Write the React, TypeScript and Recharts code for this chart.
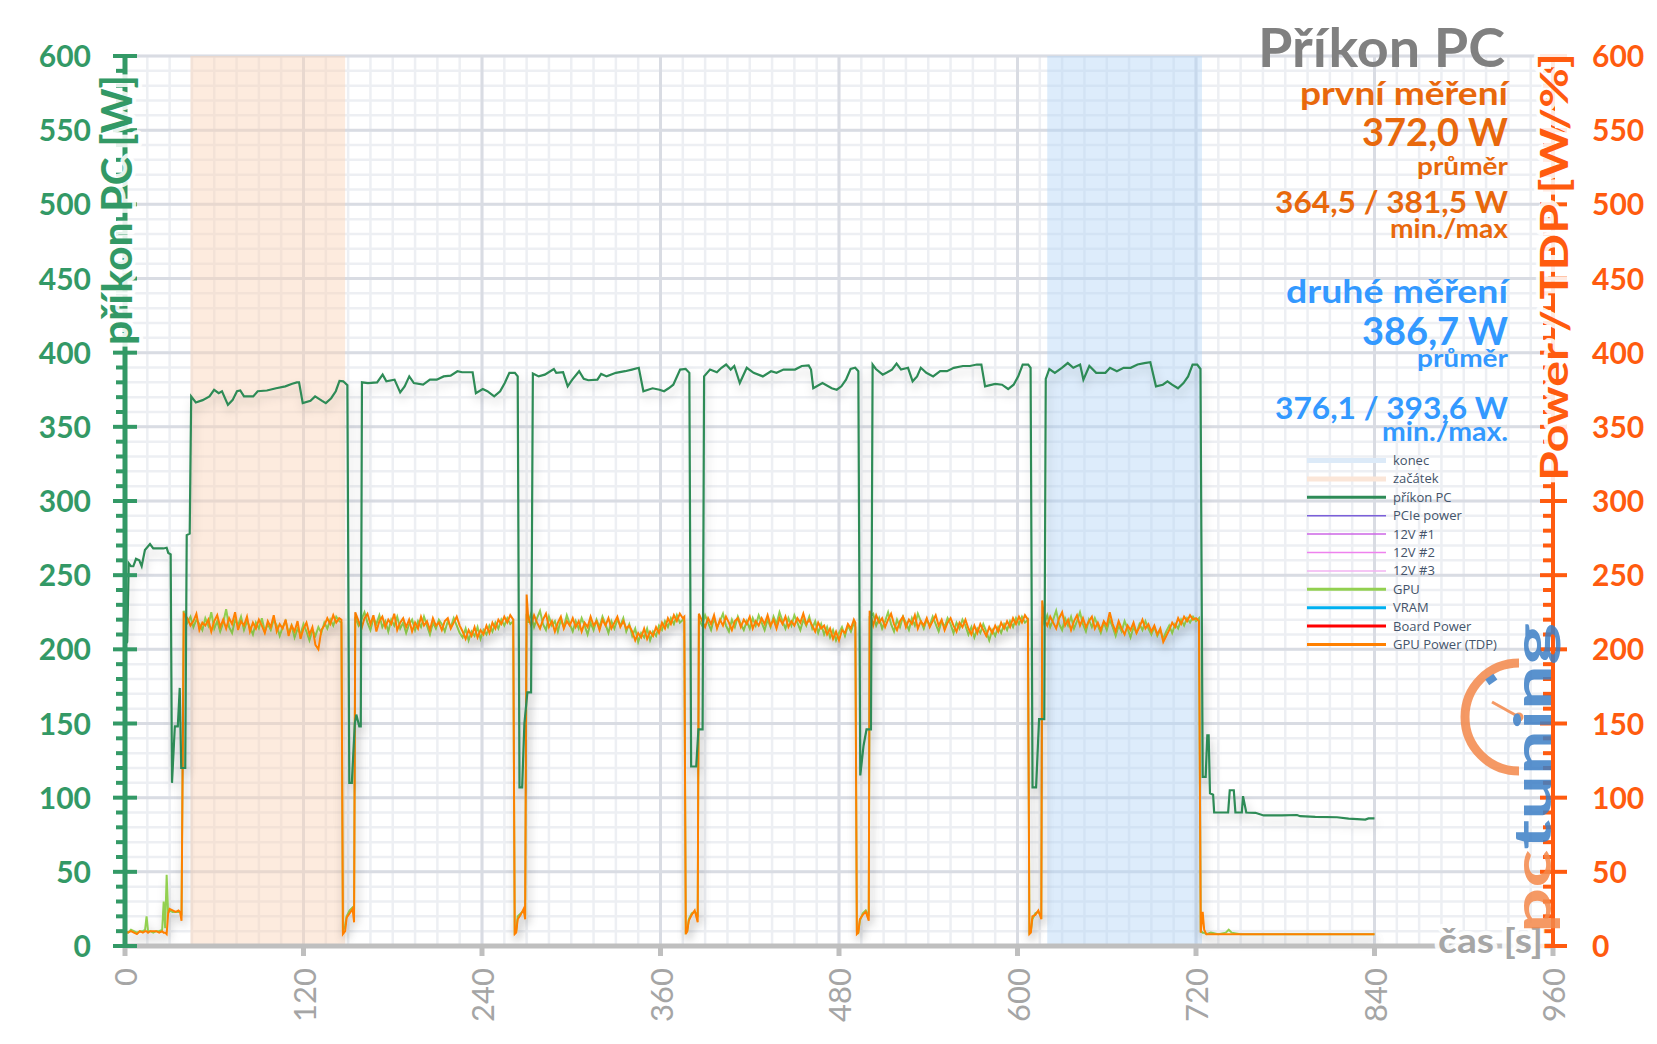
import React from "react";
import { LineChart, Line, XAxis, YAxis, CartesianGrid, ReferenceArea } from "recharts";

// PC power draw [s, W]
const pcPower: [number, number][] = [
  [0, 203], [1.5, 205], [2.5, 258], [4, 256], [5.6, 256], [7.4, 261], [9.6, 260], [11.2, 256], [13.4, 267],
  [16.8, 271], [19, 268], [22.4, 268], [25.8, 268], [28, 268.5], [29.1, 265], [30.7, 264], [31.6, 110],
  [33.5, 148], [35.5, 148], [36.8, 174], [37.8, 120], [40.5, 120], [41.5, 277], [43.5, 278], [44.5, 370.5],
  [47.6, 366.4], [52.2, 368], [56.8, 370.5], [59.9, 375], [63, 372.7], [65.2, 374], [69.2, 364.8], [72.3, 368],
  [75.3, 374], [77.5, 374.5], [80, 370.5], [86.2, 370.5], [89.2, 374], [95.4, 374.5], [101.6, 376], [107.8, 377.3],
  [112.4, 379], [115.5, 380], [117, 380], [119.5, 366], [124.7, 367.5], [127.8, 370.5], [132.5, 367.5], [135, 366],
  [138.6, 369.3], [141.7, 374], [144.2, 381], [146.7, 380.7], [149.5, 378], [150.8, 110], [152.5, 110],
  [154.5, 150], [155.5, 156], [157.5, 148], [158.5, 148], [159.3, 380], [163.3, 379.5], [169.5, 380],
  [173.2, 385.2], [175.7, 380.7], [181.2, 381.8], [185, 373.2], [188, 377.3], [191.1, 384], [194.2, 379.5],
  [200.4, 378.4], [205, 381.8], [209.6, 381.8], [214.2, 384], [218.9, 384.5], [223.5, 387.5], [226.6, 386.8],
  [233.7, 386.8], [235.9, 372.7], [240.5, 375.5], [243.6, 374], [248.2, 370.5], [252.2, 374], [255.3, 379.5],
  [258.4, 386.4], [262.1, 386.4], [264, 384], [265.2, 107], [267, 107], [268.5, 150], [270.5, 171], [273, 171],
  [274.2, 386], [278.1, 384], [282.2, 385.2], [288.3, 389], [289.9, 386.4], [294.5, 386.8], [297.6, 377.3],
  [300.7, 381.8], [305.3, 387.5], [308.4, 382.3], [311.5, 381.4], [317.6, 381.8], [320.1, 385.7], [323.8, 384],
  [330, 386.4], [336.2, 387.5], [340.8, 388.6], [345.4, 389.8], [348.5, 374], [354.7, 376], [359.3, 375],
  [362.4, 374], [365.5, 376], [368.6, 378.4], [373.2, 388.6], [376.9, 389], [379.4, 386.4], [380.6, 121],
  [384, 121], [385.5, 146], [388.3, 146], [389.3, 384], [393.3, 388.6], [397.9, 386.8], [401, 389.8],
  [404.1, 392], [407.2, 388.6], [409.6, 391], [413.3, 379.5], [418, 389.8], [422.6, 386.4], [428.8, 384],
  [434.3, 387.5], [438, 386.4], [442.7, 388.6], [450.4, 388.6], [455, 391], [459.6, 391.4], [461.2, 388.6],
  [462.7, 376], [468.9, 379.5], [475.1, 376], [478.5, 375], [481.6, 377.3], [484.7, 381.8], [487.8, 389],
  [490.9, 389.8], [493, 387.5], [494.3, 115], [496.5, 135], [498.5, 146], [501.5, 146], [502.6, 392],
  [504.8, 389], [509.4, 385.2], [512.5, 386.8], [515.6, 388.6], [518.7, 392.7], [521.7, 388.6], [526.4, 389.8],
  [529.5, 380.7], [532.5, 384], [535, 389.8], [538.7, 386.4], [543.3, 384], [548, 387.5], [552.6, 387.5],
  [557.2, 389.8], [563.4, 391], [568, 391], [572.7, 392], [575.7, 392], [578.2, 377.3], [585, 379],
  [589.6, 378.4], [593.7, 375.5], [597.4, 378.4], [600.5, 384], [603.5, 392], [607.2, 392], [608.8, 389.8],
  [610.1, 107], [612.5, 107], [614.5, 153], [618, 153], [619, 382.3], [621.4, 389], [625.1, 386.4],
  [629.8, 389.8], [633.8, 393], [637.5, 389.8], [642.1, 392], [644.3, 381.8], [648.3, 391], [652.9, 386.4],
  [659.1, 386.4], [662.2, 389.8], [666.8, 387.5], [671.4, 389.8], [676.1, 389.8], [680.7, 392], [685.3, 393],
  [689.3, 393.6], [693.1, 377.3], [697.7, 378.4], [700.8, 380.7], [703.9, 378.4], [707.9, 376], [711.6, 379.5],
  [714.7, 384], [717.7, 392], [720.8, 392], [723, 389], [724.5, 114], [726.5, 114], [727.6, 142], [728.5, 142],
  [729.4, 103], [731.5, 102], [732.2, 90], [741.6, 90], [742.7, 105], [745.4, 105], [746.5, 90], [750.8, 90],
  [751.6, 101], [753.8, 90], [759.9, 89.8], [765.5, 88], [777.8, 88], [787.9, 88.3], [790, 87.5], [800.2, 87],
  [814.8, 86.8], [822.6, 85.9], [833.8, 85.2], [836, 86], [840, 86],
];

// GPU samples [s, GPU W, GPU Power (TDP) W]
const gpuSamples: [number, number, number][] = [
  [0, 10, 10], [2, 9, 9], [4, 11, 10], [6, 10, 9], [8, 9, 8], [10, 10, 10], [12, 10, 9], [13.5, 11, 10],
  [14.5, 20, 10], [15.5, 10, 9], [17, 10, 10], [19, 9, 10], [21, 10, 10], [23, 10, 9], [25, 11, 10], [26, 30, 9],
  [27, 12, 9], [28, 48, 8], [29, 22, 22], [30, 24, 25], [32, 23, 24], [34, 23, 23], [36, 23, 24], [37, 23, 23],
  [38, 22, 17], [39.5, 226, 224],
  [42, 218, 221], [44, 222, 216], [46, 215, 219], [48, 220, 224], [50, 217, 213], [52, 213, 218], [54, 221, 216],
  [56, 216, 220], [58, 225, 212], [60, 214, 219], [62, 219, 223], [64, 212, 215], [66, 218, 220], [68, 227, 214],
  [70, 215, 221], [72, 211, 217], [74, 220, 225], [76, 216, 213], [78, 222, 219], [80, 213, 216], [82, 219, 222],
  [84, 215, 212], [86, 210, 218], [88, 218, 214], [90, 214, 220], [92, 221, 216], [94, 212, 211], [96, 217, 219],
  [98, 213, 215], [100, 220, 223], [102, 216, 212], [104, 209, 217], [106, 215, 214], [108, 219, 220],
  [110, 211, 209], [112, 216, 216], [114, 208, 212], [116, 214, 219], [118, 210, 207], [120, 217, 214],
  [122, 212, 218], [124, 206, 210], [126, 213, 215], [128, 209, 203], [130, 215, 200], [132, 211, 213],
  [134, 218, 216], [136, 214, 221], [138, 220, 217], [140, 216, 223], [142, 222, 218], [144, 219, 221],
  [145.5, 218, 220], [146.5, 10, 8], [148, 14, 10], [149, 20, 19], [151, 24, 22], [153, 26, 25], [154, 24, 16],
  [154.8, 222, 225], [157, 216, 219], [159, 220, 214], [161, 225, 221], [163, 218, 224], [165, 213, 217],
  [167, 221, 223], [169, 217, 212], [171, 223, 219], [173, 215, 222], [175, 219, 215], [177, 212, 220],
  [179, 220, 217], [181, 216, 224], [183, 222, 213], [185, 214, 218], [187, 218, 221], [189, 211, 215],
  [191, 217, 220], [193, 220, 212], [195, 213, 218], [197, 219, 214], [199, 215, 222], [201, 222, 216],
  [203, 216, 219], [205, 210, 213], [207, 218, 221], [209, 214, 216], [211, 220, 218], [213, 217, 213],
  [215, 212, 219], [217, 219, 221], [219, 215, 214], [221, 221, 218], [223, 216, 222], [225, 211, 216],
  [227, 208, 212], [229, 214, 207], [231, 206, 213], [233, 212, 209], [235, 209, 215], [237, 215, 208],
  [239, 207, 213], [241, 213, 210], [243, 210, 216], [245, 216, 211], [247, 212, 218], [249, 218, 214],
  [251, 214, 220], [253, 220, 217], [255, 216, 222], [257, 221, 218], [259, 217, 223], [261, 219, 220],
  [262, 9, 8], [263, 10, 9], [264, 20, 18], [266, 22, 21], [268, 24, 25], [269, 20, 18], [270, 224, 237],
  [271, 218, 222], [273, 224, 216], [275, 215, 223], [277, 221, 218], [279, 226, 214], [281, 217, 220],
  [283, 213, 224], [285, 222, 215], [287, 216, 219], [289, 219, 212], [291, 212, 218], [293, 220, 222],
  [295, 215, 214], [297, 223, 219], [299, 217, 216], [301, 212, 221], [303, 219, 215], [305, 214, 219],
  [307, 221, 212], [309, 216, 218], [311, 210, 215], [313, 218, 222], [315, 213, 216], [317, 220, 219],
  [319, 215, 213], [321, 222, 220], [323, 217, 216], [325, 211, 221], [327, 219, 214], [329, 214, 218],
  [331, 220, 222], [333, 216, 215], [335, 221, 219], [337, 212, 214], [339, 217, 216], [341, 209, 212],
  [343, 214, 206], [345, 205, 211], [347, 211, 208], [349, 208, 214], [351, 214, 207], [353, 206, 212],
  [355, 212, 209], [357, 209, 215], [359, 216, 211], [361, 213, 218], [363, 219, 214], [365, 215, 221],
  [367, 221, 217], [369, 217, 223], [371, 223, 219], [373, 218, 224], [375, 220, 221], [376, 219, 222],
  [377, 9, 8], [378, 10, 10], [379, 18, 17], [381, 22, 21], [383, 23, 24], [385, 21, 16], [385.8, 220, 224],
  [388, 216, 219], [390, 223, 215], [392, 218, 221], [394, 213, 217], [396, 221, 223], [398, 215, 214],
  [400, 219, 220], [402, 224, 216], [404, 216, 222], [406, 212, 218], [408, 220, 213], [410, 215, 219],
  [412, 222, 221], [414, 217, 215], [416, 213, 220], [418, 219, 217], [420, 214, 222], [422, 221, 214],
  [424, 216, 219], [426, 223, 216], [428, 218, 221], [430, 213, 217], [432, 220, 223], [434, 215, 216],
  [436, 222, 220], [438, 217, 214], [440, 225, 221], [442, 219, 217], [444, 214, 222], [446, 221, 215],
  [448, 216, 219], [450, 223, 216], [452, 218, 221], [454, 213, 218], [456, 220, 224], [458, 216, 217],
  [460, 222, 220], [462, 214, 216], [464, 219, 212], [466, 211, 218], [468, 217, 214], [470, 210, 216],
  [472, 215, 210], [474, 208, 214], [476, 213, 207], [478, 206, 212], [480, 211, 206], [482, 215, 213],
  [484, 209, 211], [486, 216, 217], [488, 212, 214], [490, 218, 220], [491, 215, 218], [492, 10, 8],
  [493, 9, 9], [494, 17, 18], [496, 22, 21], [498, 24, 23], [500, 20, 17], [500.6, 222, 226],
  [503, 224, 216], [505, 216, 223], [507, 221, 218], [509, 214, 221], [511, 219, 215], [513, 225, 220],
  [515, 217, 224], [517, 212, 217], [519, 220, 213], [521, 215, 219], [523, 222, 222], [525, 218, 215],
  [527, 213, 220], [529, 221, 217], [531, 216, 223], [533, 224, 214], [535, 219, 219], [537, 214, 216],
  [539, 220, 221], [541, 216, 215], [543, 222, 219], [545, 217, 223], [547, 212, 216], [549, 219, 220],
  [551, 215, 213], [553, 221, 218], [555, 217, 221], [557, 211, 216], [559, 218, 212], [561, 214, 218],
  [563, 220, 215], [565, 216, 220], [567, 210, 214], [569, 215, 210], [571, 208, 216], [573, 214, 211],
  [575, 211, 217], [577, 217, 213], [579, 212, 209], [581, 206, 215], [583, 213, 211], [585, 209, 216],
  [587, 215, 212], [589, 211, 218], [591, 217, 214], [593, 213, 219], [595, 219, 215], [597, 215, 221],
  [599, 221, 217], [601, 217, 222], [603, 222, 218], [605, 218, 223], [607, 220, 220], [608, 9, 8],
  [609, 10, 9], [610, 18, 20], [612, 22, 21], [614, 23, 24], [616, 20, 18], [616.6, 222, 233],
  [618, 217, 220], [620, 223, 216], [622, 215, 222], [624, 220, 218], [626, 226, 214], [628, 217, 221],
  [630, 213, 225], [632, 221, 216], [634, 216, 220], [636, 222, 213], [638, 214, 219], [640, 219, 223],
  [642, 225, 216], [644, 217, 221], [646, 212, 215], [648, 220, 219], [650, 215, 222], [652, 221, 214],
  [654, 216, 218], [656, 211, 213], [658, 218, 219], [660, 213, 216], [662, 220, 225], [664, 215, 217],
  [666, 209, 212], [668, 216, 219], [670, 212, 214], [672, 219, 210], [674, 214, 216], [676, 208, 213],
  [678, 215, 218], [680, 211, 211], [682, 217, 215], [684, 213, 220], [686, 219, 214], [688, 214, 217],
  [690, 210, 212], [692, 215, 216], [694, 209, 210], [696, 213, 214], [698, 207, 205], [700, 212, 209],
  [702, 216, 213], [704, 211, 218], [706, 217, 215], [708, 214, 221], [710, 220, 217], [712, 216, 222],
  [714, 221, 219], [716, 218, 223], [718, 222, 220], [720, 219, 221], [722, 221, 219], [723.2, 10, 9],
  [724.5, 9, 23], [725.5, 9, 11], [727, 8, 8], [730, 9, 8], [735, 8, 8], [740, 9, 8], [742, 11, 8],
  [744, 9, 8], [750, 8, 8], [760, 8, 8], [770, 8, 8], [780, 8, 8], [790, 8, 8], [800, 8, 8], [810, 8, 8],
  [820, 8, 8], [830, 8, 8], [840, 8, 8],
];

// measurement windows [s]
const startWindow = [44, 148];
const endWindow = [620, 724];

const xTicks = [0, 120, 240, 360, 480, 600, 720, 840, 960];
const yTicks = Array.from({ length: 61 }, (_, i) => i * 10);
const minorX = Array.from({ length: 65 }, (_, i) => i * 15);
const majorY = Array.from({ length: 13 }, (_, i) => i * 50);

const legendItems = [
  { name: "konec", color: "#DCEAF8", width: 5 },
  { name: "začátek", color: "#FBE6D8", width: 5 },
  { name: "příkon PC", color: "#2E8B57", width: 3 },
  { name: "PCIe power", color: "#7B5FD9", width: 1.5 },
  { name: "12V #1", color: "#CC66E6", width: 1.5 },
  { name: "12V #2", color: "#EE82EE", width: 1.5 },
  { name: "12V #3", color: "#F2B2F2", width: 1.5 },
  { name: "GPU", color: "#92D050", width: 3 },
  { name: "VRAM", color: "#00B0F0", width: 3 },
  { name: "Board Power", color: "#FF0000", width: 3 },
  { name: "GPU Power (TDP)", color: "#FF8000", width: 3 },
];

const ORANGE_TXT = "#E8680C";
const BLUE_TXT = "#3399FF";
const notes = [
  { text: "první měření", y: 105, size: 32, color: ORANGE_TXT, len: 208 },
  { text: "372,0 W", y: 146, size: 39, color: ORANGE_TXT, len: 146 },
  { text: "průměr", y: 175, size: 25, color: ORANGE_TXT, len: 91 },
  { text: "364,5 / 381,5 W", y: 213, size: 30, color: ORANGE_TXT, len: 233 },
  { text: "min./max", y: 238, size: 26, color: ORANGE_TXT, len: 118 },
  { text: "druhé měření", y: 303, size: 33, color: BLUE_TXT, len: 222 },
  { text: "386,7 W", y: 345, size: 39, color: BLUE_TXT, len: 146 },
  { text: "průměr", y: 367, size: 25, color: BLUE_TXT, len: 91 },
  { text: "376,1 / 393,6 W", y: 419, size: 30, color: BLUE_TXT, len: 233 },
  { text: "min./max.", y: 441, size: 26, color: BLUE_TXT, len: 126 },
];

const pcData = pcPower.map(([t, v]) => ({ t, v }));
const gpuData = gpuSamples.map(([t, gpu, tdp]) => ({ t, gpu, tdp }));

const GREEN = "#339966";
const RED_AXIS = "#FF5B0F";
const GRAY_AXIS = "#BFBFBF";
const FONT = "Lato, 'Open Sans', sans-serif";

const xGen = (vals: number[]) => (p: any) =>
  vals.map((v) => {
    const s = p?.xAxis?.scale;
    return typeof s === "function" ? s(v) : p.offset.left + (v / 960) * p.offset.width;
  });
const yGen = (vals: number[]) => (p: any) =>
  vals.map((v) => {
    const s = p?.yAxis?.scale;
    return typeof s === "function" ? s(v) : p.offset.top + (1 - v / 600) * p.offset.height;
  });

const LeftTick = (props: any) => {
  const { y, payload } = props;
  const v = payload.value;
  const major = v % 50 === 0;
  return (
    <g>
      <line x1={major ? 113 : 116} x2={major ? 137 : 126} y1={y} y2={y} stroke={GREEN} strokeWidth={4} />
      {major && (
        <text x={91} y={y} dy={11} textAnchor="end" fill={GREEN} fontFamily={FONT} fontWeight={700} fontSize={30}>
          {v}
        </text>
      )}
    </g>
  );
};

const RightTick = (props: any) => {
  const { y, payload } = props;
  const v = payload.value;
  const major = v % 50 === 0;
  return (
    <g>
      <line x1={major ? 1540 : 1543} x2={major ? 1567 : 1553} y1={y} y2={y} stroke={RED_AXIS} strokeWidth={4} />
      {major && (
        <text x={1592} y={y} dy={11} textAnchor="start" fill={RED_AXIS} fontFamily={FONT} fontWeight={700} fontSize={30}>
          {v}
        </text>
      )}
    </g>
  );
};

const XTick = (props: any) => {
  const { x, payload } = props;
  return (
    <g>
      <line x1={x} x2={x} y1={946} y2={956} stroke={GRAY_AXIS} strokeWidth={5} />
      <text
        transform={`translate(${x + 12}, 968) rotate(-90)`}
        textAnchor="end"
        fill="#A5A5A5"
        fontFamily={FONT}
        fontSize={31}
      >
        {payload.value}
      </text>
    </g>
  );
};

const halo = { stroke: "#fff", strokeWidth: 8, strokeOpacity: 0.9, paintOrder: "stroke" as const, strokeLinejoin: "round" as const };

export default function App() {
  return (
    <div style={{ position: "relative", width: 1657, height: 1044, background: "#fff" }}>
      <style>{`body{margin:0} .shadowed{filter:url(#lineShadow)}`}</style>
      <svg width={0} height={0} style={{ position: "absolute" }}>
        <defs>
          <filter id="lineShadow" x="-5%" y="-10%" width="110%" height="130%">
            <feDropShadow dx="2" dy="6" stdDeviation="5" floodColor="#000" floodOpacity="0.2" />
          </filter>
        </defs>
      </svg>
      <LineChart width={1657} height={1044} margin={{ top: 56, right: 0, bottom: 0, left: 0 }}>
        <CartesianGrid
          yAxisId="left"
          stroke="#EDEFF3"
          strokeWidth={2.5}
          verticalCoordinatesGenerator={xGen(minorX)}
          horizontalCoordinatesGenerator={yGen(yTicks)}
        />
        <CartesianGrid
          yAxisId="left"
          stroke="#D9DCE3"
          strokeWidth={3}
          verticalCoordinatesGenerator={xGen(xTicks)}
          horizontalCoordinatesGenerator={yGen(majorY)}
        />
        <ReferenceArea yAxisId="left" x1={startWindow[0]} x2={startWindow[1]} fill="#FBD3B5" fillOpacity={0.45} stroke="none" />
        <ReferenceArea yAxisId="left" x1={endWindow[0]} x2={endWindow[1]} fill="#B4D4F7" fillOpacity={0.45} stroke="none" />
        <XAxis
          dataKey="t"
          type="number"
          domain={[0, 960]}
          ticks={xTicks}
          interval={0}
          tick={XTick}
          tickLine={false}
          axisLine={{ stroke: GRAY_AXIS, strokeWidth: 5 }}
          height={98}
          allowDataOverflow
        />
        <YAxis
          yAxisId="left"
          orientation="left"
          type="number"
          width={125}
          domain={[0, 600]}
          ticks={yTicks}
          interval={0}
          tick={LeftTick}
          tickLine={false}
          axisLine={{ stroke: GREEN, strokeWidth: 5 }}
          allowDataOverflow
        />
        <YAxis
          yAxisId="right"
          orientation="right"
          type="number"
          width={104}
          domain={[0, 600]}
          ticks={yTicks}
          interval={0}
          tick={RightTick}
          tickLine={false}
          axisLine={{ stroke: RED_AXIS, strokeWidth: 4 }}
          allowDataOverflow
        />
        <Line data={gpuData} yAxisId="right" dataKey="gpu" type="linear" stroke="#92D050" strokeWidth={2} dot={false} isAnimationActive={false} className="shadowed" />
        <Line data={gpuData} yAxisId="right" dataKey="tdp" type="linear" stroke="#FF8000" strokeWidth={2} dot={false} isAnimationActive={false} className="shadowed" />
        <Line data={pcData} yAxisId="left" dataKey="v" type="linear" stroke="#2E8B57" strokeWidth={2.2} dot={false} isAnimationActive={false} className="shadowed" />
      </LineChart>

      <svg width={1657} height={1044} style={{ position: "absolute", left: 0, top: 0, pointerEvents: "none" }}>
        {/* axis titles */}
        <text
          transform="translate(132, 210) rotate(-90)"
          textAnchor="middle"
          fill={GREEN}
          fontFamily={FONT}
          fontWeight={700}
          fontSize={42}
          textLength={270}
          lengthAdjust="spacingAndGlyphs"
          style={halo}
        >
          příkon PC [W]
        </text>
        <text
          transform="translate(1568, 267) rotate(-90)"
          textAnchor="middle"
          fill={RED_AXIS}
          fontFamily={FONT}
          fontWeight={700}
          fontSize={38}
          textLength={428}
          lengthAdjust="spacingAndGlyphs"
          style={halo}
        >
          Power / TDP [W/%]
        </text>
        <text x={1543} y={953} textAnchor="end" fill="#A6A6A6" fontFamily={FONT} fontWeight={700} fontSize={34} textLength={105} lengthAdjust="spacingAndGlyphs" style={halo}>
          čas [s]
        </text>

        {/* title and summary */}
        <text x={1505} y={67} textAnchor="end" fill="#808080" fontFamily={FONT} fontWeight={700} fontSize={53} textLength={247} lengthAdjust="spacingAndGlyphs">
          Příkon PC
        </text>
        {notes.map((n, i) => (
          <text key={i} x={1508} y={n.y} textAnchor="end" fill={n.color} fontFamily={FONT} fontWeight={700} fontSize={n.size} textLength={n.len} lengthAdjust="spacingAndGlyphs">
            {n.text}
          </text>
        ))}

        {/* legend */}
        {legendItems.map((it, i) => {
          const cy = 460.5 + i * 18.4;
          return (
            <g key={it.name}>
              <line x1={1307} x2={1386} y1={cy} y2={cy} stroke={it.color} strokeWidth={it.width} />
              <text x={1393} y={cy + 4.5} fill="#44546A" fontFamily="'Open Sans', sans-serif" fontSize={13}>
                {it.name}
              </text>
            </g>
          );
        })}

        {/* watermark logo */}
        <g opacity={0.85}>
          <path d="M 1519 663 A 54 54 0 0 0 1519 771" stroke="#F4884A" strokeWidth={9} fill="none" />
          <line x1={1519} y1={717} x2={1492} y2={702} stroke="#F4884A" strokeWidth={3} />
          <circle cx={1519} cy={717} r={4.5} fill="#F4884A" />
          <rect x={1486} y={676} width={10} height={7} fill="#3D7FC6" transform="rotate(-35 1491 679)" />
          <text transform="translate(1551, 933) rotate(-90)" fontFamily={FONT} fontWeight={700} fontSize={52} textLength={310} lengthAdjust="spacingAndGlyphs">
            <tspan fill="#F4884A">pc</tspan>
            <tspan fill="#3D7FC6">tuning</tspan>
          </text>
        </g>
      </svg>
    </div>
  );
}
